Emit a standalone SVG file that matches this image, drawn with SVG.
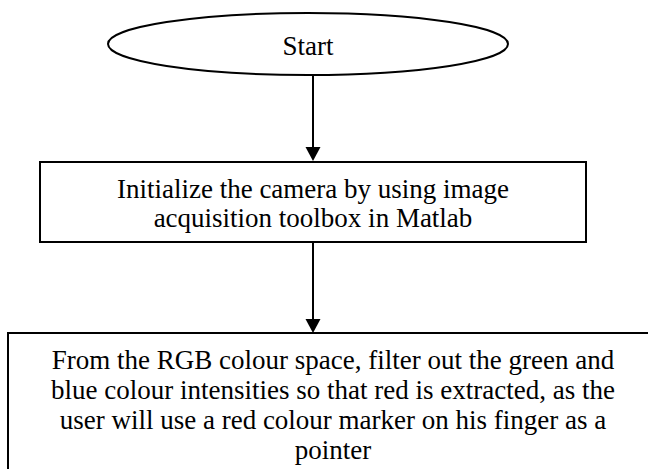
<svg xmlns="http://www.w3.org/2000/svg" width="648" height="469" viewBox="0 0 648 469">
  <style>
    .shape { fill: #ffffff; stroke: #000000; stroke-width: 2; }
    .conn { stroke: #000000; stroke-width: 2; fill: none; }
    .head { fill: #000000; stroke: none; }
    text { font-family: "Liberation Serif", "Times New Roman", serif; font-size: 27px; fill: #000000; text-anchor: middle; }
  </style>
  <rect x="0" y="0" width="648" height="469" fill="#ffffff"/>
  <g id="start">
    <ellipse class="shape" cx="308" cy="44" rx="200" ry="31"/>
    <text x="308" y="55">Start</text>
  </g>
  <g id="init">
    <rect class="shape" x="40" y="162" width="546" height="80"/>
    <text x="313" y="198">Initialize the camera by using image</text>
    <text x="313" y="227">acquisition toolbox in Matlab</text>
  </g>
  <g id="filter">
    <rect class="shape" x="8" y="333" width="650" height="150"/>
    <text x="333" y="369">From the RGB colour space, filter out the green and</text>
    <text x="333" y="399">blue colour intensities so that red is extracted, as the</text>
    <text x="333" y="429">user will use a red colour marker on his finger as a</text>
    <text x="333" y="459">pointer</text>
  </g>
  <g id="connectors">
    <line class="conn" x1="313" y1="75" x2="313" y2="149"/>
    <polygon class="head" points="305.5,147 320.5,147 313,161"/>
    <line class="conn" x1="313" y1="243" x2="313" y2="321"/>
    <polygon class="head" points="305.5,319 320.5,319 313,333"/>
  </g>
</svg>
